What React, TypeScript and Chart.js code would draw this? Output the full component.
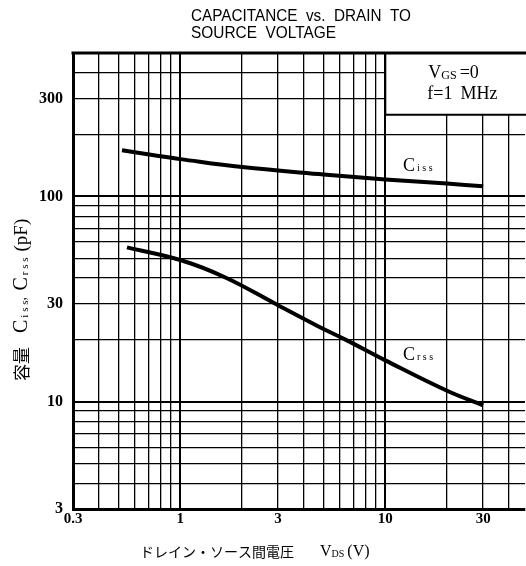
import React, { useEffect, useRef } from "react";
import { Chart, registerables } from "chart.js";

Chart.register(...registerables);

// ---- data ----
const vdsCiss = [0.52, 0.8, 1, 2, 5, 10, 20, 30];
const ciss = [168, 157, 152, 139, 128, 121, 115.5, 112];
const vdsCrss = [0.55, 1, 1.66, 3, 4.67, 6.5, 10, 20, 30];
const crss = [56.5, 49, 40.3, 29.5, 23.4, 19.9, 15.9, 11.3, 9.6];

const xGridValues = [0.3, 0.4, 0.5, 0.6, 0.7, 0.8, 0.9, 1, 2, 3, 4, 5, 6, 7, 8, 9, 10, 20, 30, 40];
const xTickLabels: Record<string, string> = { "0.3": "0.3", "1": "1", "3": "3", "10": "10", "30": "30" };
const yGridValues = [3, 4, 5, 6, 7, 8, 9, 10, 20, 30, 40, 50, 60, 70, 80, 90, 100, 200, 300, 400];
const yTickLabels: Record<string, string> = { "3": "3", "10": "10", "30": "30", "100": "100", "300": "300" };
const decades = [1, 10, 100];

const titleLines = ["CAPACITANCE  vs.  DRAIN  TO", "SOURCE  VOLTAGE"];

const SERIF = '"Liberation Serif", "DejaVu Serif", serif';
const SANS = '"Liberation Sans", Arial, sans-serif';
const CJK = '"Noto Sans CJK JP", sans-serif';

type Seg = { t: string; font: string; dy?: number; gap?: number };

function drawRich(ctx: CanvasRenderingContext2D, x: number, y: number, segs: Seg[]) {
  let cx = x;
  for (const s of segs) {
    ctx.font = s.font;
    ctx.fillText(s.t, cx, y + (s.dy || 0));
    cx += ctx.measureText(s.t).width + (s.gap || 0);
  }
  return cx;
}

const annotPlugin = {
  id: "annot",
  beforeDatasetsDraw(chart: any) {
    const { ctx, chartArea, scales } = chart;
    const xs = scales.x, ys = scales.y;
    // legend box (white, covering grid)
    const bx = xs.getPixelForValue(10);
    const by = ys.getPixelForValue(250);
    ctx.save();
    ctx.fillStyle = "#fff";
    ctx.fillRect(bx, chartArea.top, chartArea.right - bx + 2, by - chartArea.top);
    ctx.strokeStyle = "#000";
    ctx.lineWidth = 2;
    ctx.beginPath();
    ctx.moveTo(bx, chartArea.top);
    ctx.lineTo(bx, by);
    ctx.lineTo(chartArea.right + 2, by);
    ctx.stroke();
    ctx.restore();
  },
  afterDraw(chart: any) {
    const { ctx, chartArea, scales } = chart;
    const xs = scales.x, ys = scales.y;
    ctx.save();
    ctx.fillStyle = "#000";
    ctx.strokeStyle = "#000";
    // top border
    ctx.lineWidth = 3;
    ctx.beginPath();
    ctx.moveTo(chartArea.left - 1.5, chartArea.top);
    ctx.lineTo(chartArea.right + 2, chartArea.top);
    ctx.stroke();

    ctx.textBaseline = "alphabetic";
    ctx.textAlign = "left";
    // title
    ctx.font = `17px ${SANS}`;
    const targets = [220, 145];
    titleLines.forEach((line, i) => {
      const w = ctx.measureText(line).width;
      ctx.save();
      ctx.translate(191, i === 0 ? 21 : 38);
      ctx.scale(targets[i] / w, 1);
      ctx.fillText(line, 0, 0);
      ctx.restore();
    });

    // legend box text
    const bx = xs.getPixelForValue(10);
    drawRich(ctx, bx + 43, chartArea.top + 25, [
      { t: "V", font: `18px ${SERIF}` },
      { t: "GS", font: `12px ${SERIF}`, dy: 1, gap: 3 },
      { t: "=0", font: `18px ${SERIF}` },
    ]);
    drawRich(ctx, bx + 42, chartArea.top + 46, [
      { t: "f=1", font: `18px ${SERIF}`, gap: 8 },
      { t: "MHz", font: `18px ${SERIF}` },
    ]);

    // curve labels
    drawRich(ctx, xs.getPixelForValue(12.2), ys.getPixelForValue(133), [
      { t: "C", font: `18px ${SERIF}`, gap: 2 },
      { t: "i s s", font: `10px ${SERIF}`, dy: 0 },
    ]);
    drawRich(ctx, xs.getPixelForValue(12.2), ys.getPixelForValue(15.9), [
      { t: "C", font: `18px ${SERIF}`, gap: 2 },
      { t: "r s s", font: `10px ${SERIF}`, dy: 0 },
    ]);

    // x-axis title
    ctx.textBaseline = "middle";
    drawRich(ctx, 140, 552, [
      { t: "ドレイン・ソース間電圧", font: `14px ${CJK}`, gap: 26 },
      { t: "V", font: `16px ${SERIF}`, dy: 0 },
      { t: "DS", font: `10px ${SERIF}`, dy: 2, gap: 3 },
      { t: "(V)", font: `16px ${SERIF}` },
    ]);

    // y-axis title (rotated)
    ctx.save();
    ctx.translate(22, 381);
    ctx.rotate(-Math.PI / 2);
    drawRich(ctx, 0, 0, [
      { t: "容量", font: `17px ${CJK}`, gap: 14 },
      { t: "C", font: `20px ${SERIF}`, gap: 2 },
      { t: "i s s", font: `11px ${SERIF}`, dy: 3 },
      { t: ", ", font: `14px ${SERIF}`, gap: 3 },
      { t: "C", font: `20px ${SERIF}`, gap: 2 },
      { t: "r s s", font: `11px ${SERIF}`, dy: 3, gap: 6 },
      { t: "(pF)", font: `19px ${SERIF}` },
    ]);
    ctx.restore();
    ctx.restore();
  },
};

const gridWidth = (ctx: any) => (ctx.tick && decades.includes(ctx.tick.value) ? 2 : 1.3);

export default function App() {
  const ref = useRef<HTMLCanvasElement>(null);
  useEffect(() => {
    if (!ref.current) return;
    const chart = new Chart(ref.current, {
      type: "line",
      data: {
        datasets: [
          {
            label: "Ciss",
            data: vdsCiss.map((x, i) => ({ x, y: ciss[i] })),
            borderColor: "#000",
            borderWidth: 4,
            pointRadius: 0,
            tension: 0.4,
            fill: false,
          },
          {
            label: "Crss",
            data: vdsCrss.map((x, i) => ({ x, y: crss[i] })),
            borderColor: "#000",
            borderWidth: 4,
            pointRadius: 0,
            tension: 0.4,
            fill: false,
          },
        ],
      },
      options: {
        animation: false,
        responsive: false,
        devicePixelRatio: 1,
        layout: { padding: { top: 53, left: 0, right: 1, bottom: 0 } },
        plugins: { legend: { display: false }, tooltip: { enabled: false }, title: { display: false } },
        scales: {
          x: {
            type: "logarithmic",
            min: 0.3,
            max: 48,
            afterBuildTicks: (s: any) => {
              s.ticks = xGridValues.map((v) => ({ value: v }));
            },
            afterFit: (s: any) => {
              s.height = 57;
            },
            ticks: {
              autoSkip: false,
              maxRotation: 0,
              padding: 1,
              color: "#000",
              font: { family: SERIF, size: 15, weight: "bold" },
              callback: (v: any) => xTickLabels[String(v)] ?? "",
            },
            grid: { color: "#000", lineWidth: gridWidth, drawTicks: false },
            border: { display: true, color: "#000", width: 3 },
          },
          y: {
            type: "logarithmic",
            min: 3,
            max: 500,
            afterBuildTicks: (s: any) => {
              s.ticks = yGridValues.map((v) => ({ value: v }));
            },
            afterFit: (s: any) => {
              s.width = 73;
            },
            ticks: {
              autoSkip: false,
              padding: 10,
              color: "#000",
              font: { family: SERIF, size: 16, weight: "bold" },
              callback: (v: any) => yTickLabels[String(v)] ?? "",
            },
            grid: { color: "#000", lineWidth: gridWidth, drawTicks: false },
            border: { display: true, color: "#000", width: 3 },
          },
        },
      },
      plugins: [annotPlugin],
    } as any);
    return () => chart.destroy();
  }, []);
  return (
    <div style={{ position: "fixed", left: 0, top: 0, width: 526, height: 566, background: "#fff" }}>
      <canvas ref={ref} width={526} height={566} style={{ width: 526, height: 566 }} />
    </div>
  );
}
